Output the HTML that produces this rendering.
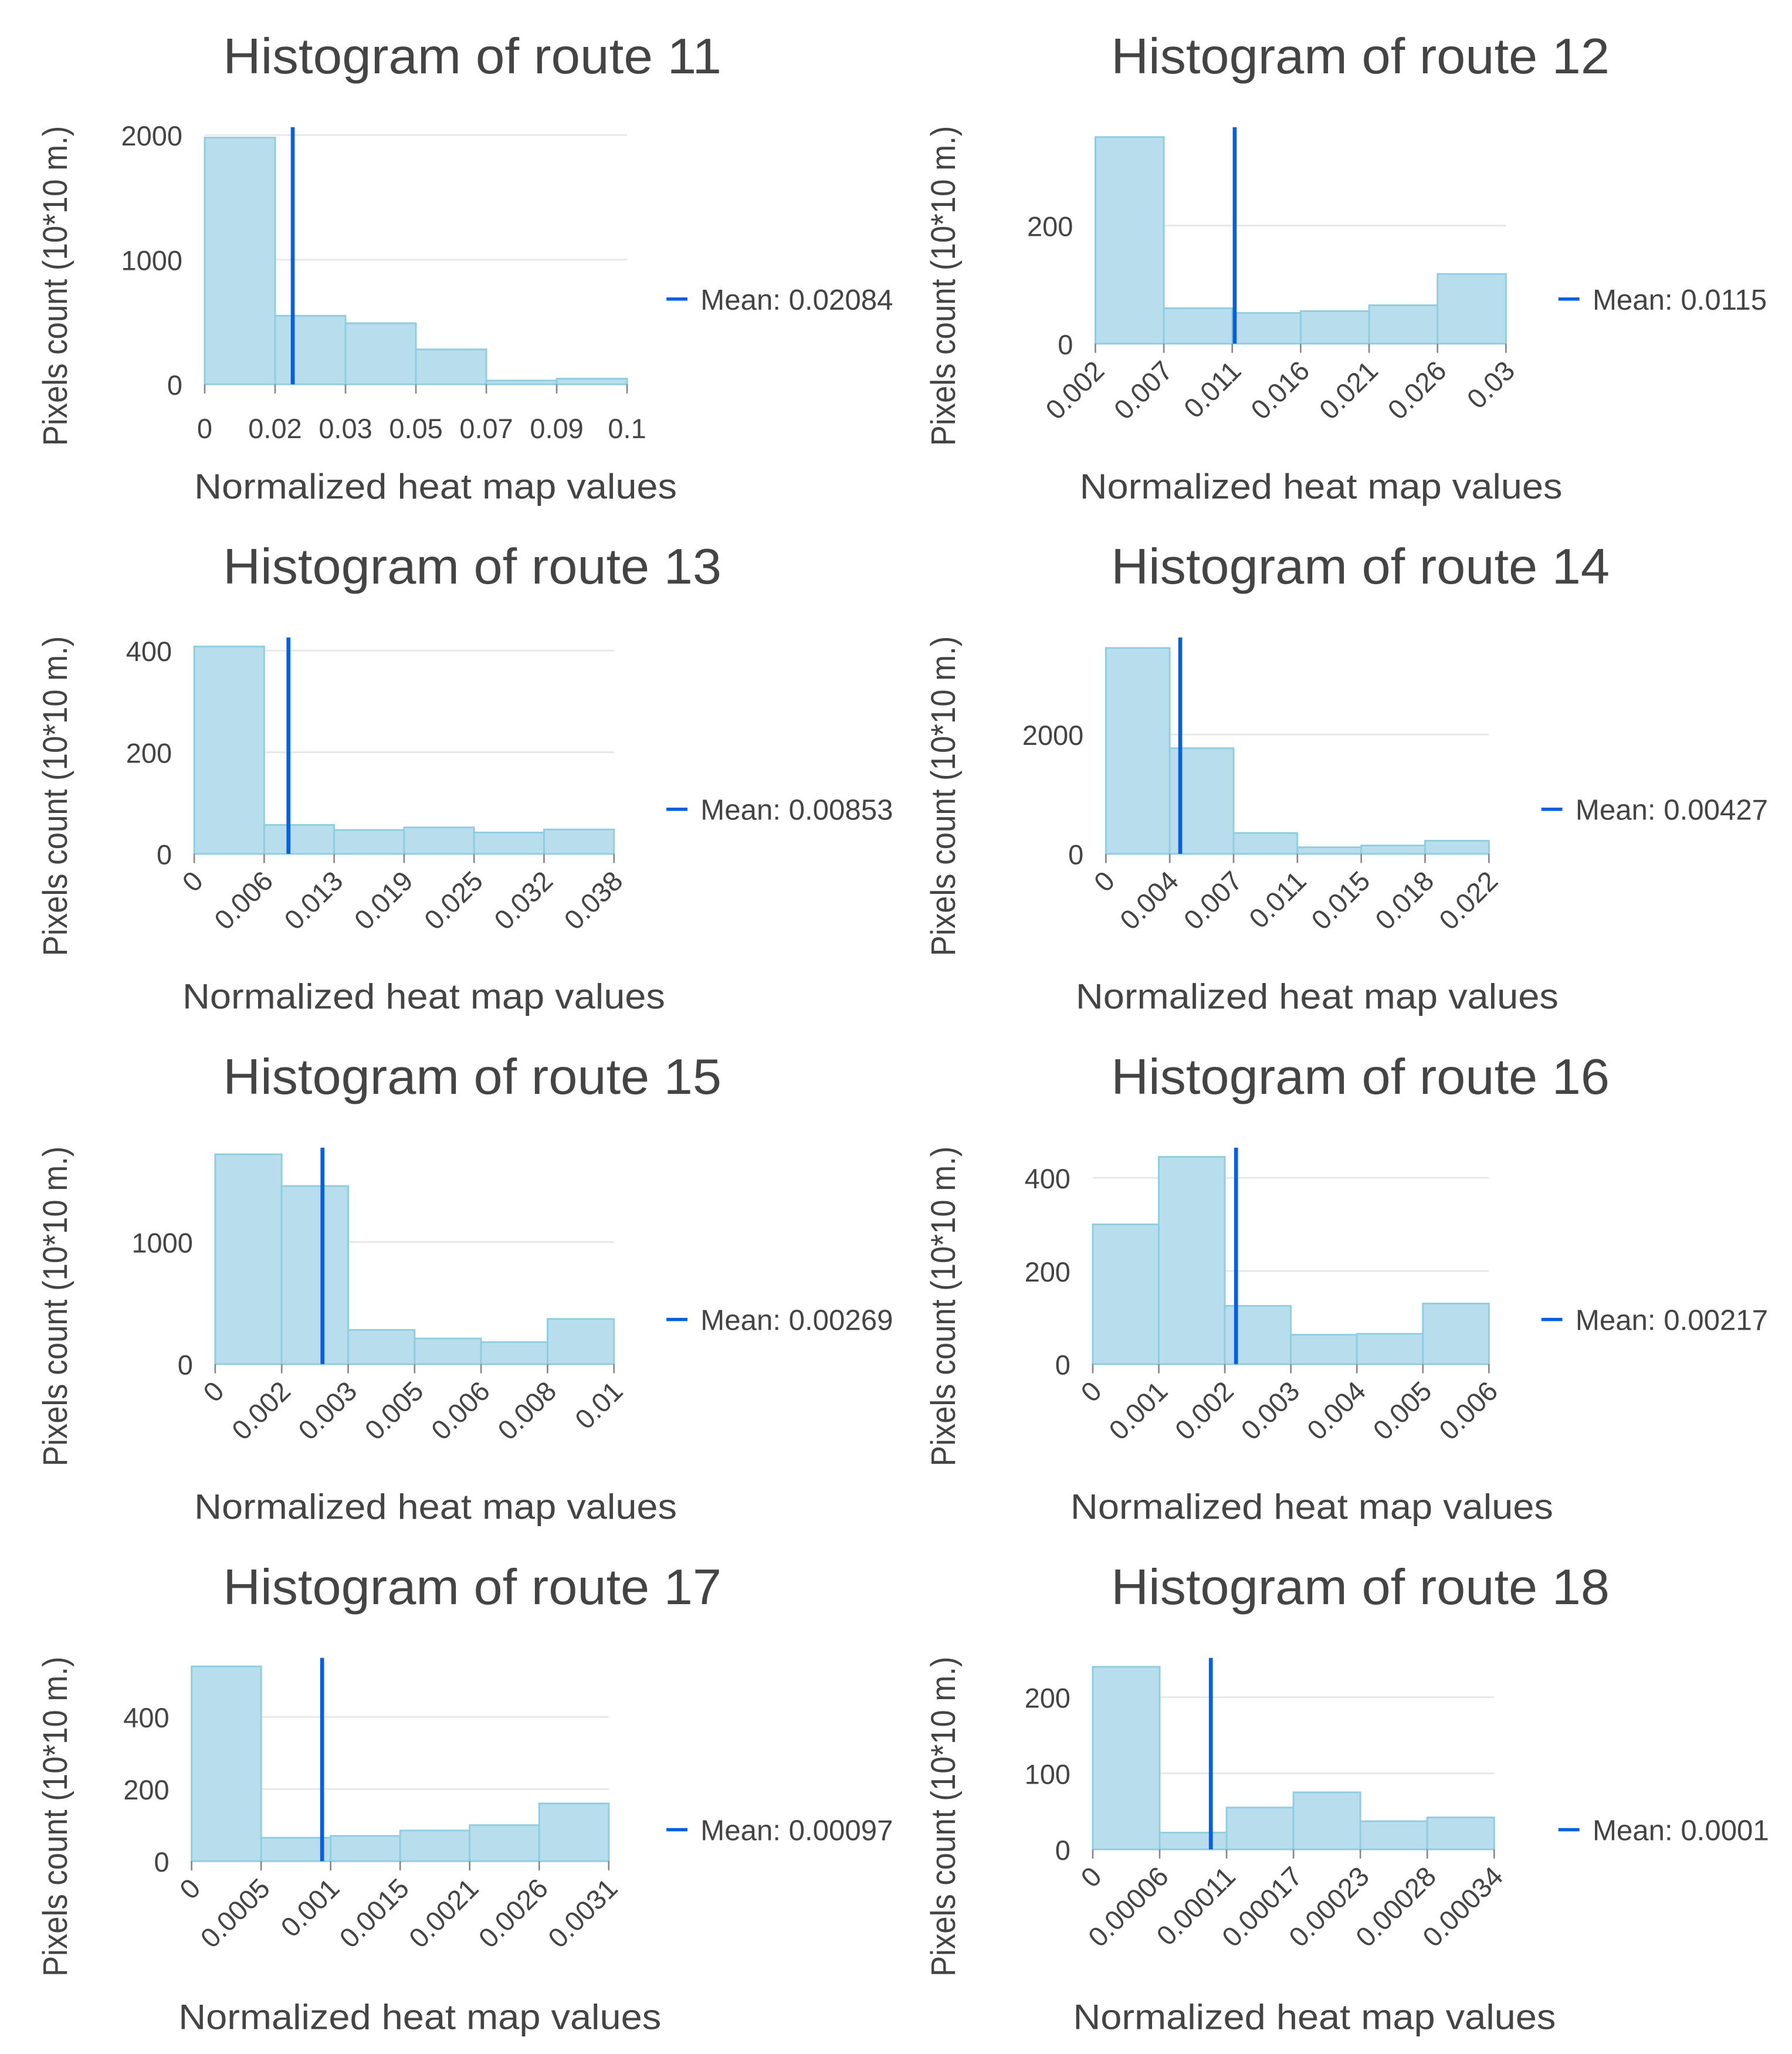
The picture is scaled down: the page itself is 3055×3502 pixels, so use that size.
<!DOCTYPE html>
<html><head><meta charset="utf-8">
<style>
html,body{margin:0;padding:0;background:#fff;}
svg{display:block;}
text{font-family:"Liberation Sans",sans-serif;fill:#444;}
</style></head>
<body>
<svg id="chart" width="3055" height="3502" viewBox="0 0 1366 1566" xmlns="http://www.w3.org/2000/svg"></svg>
<script>
// ---- data ----
const routes = ["11","12","13","14","15","16","17","18"];
const counts11 = [1980, 550, 490, 280, 30, 45];
const counts12 = [350, 60, 52, 55, 65, 118];
const counts13 = [408, 57, 47, 52, 42, 48];
const counts14 = [3450, 1770, 350, 110, 140, 220];
const counts15 = [1720, 1460, 280, 210, 180, 370];
const counts16 = [300, 445, 125, 63, 65, 130];
const counts17 = [540, 65, 70, 85, 100, 160];
const counts18 = [240, 22, 55, 75, 37, 42];
const ticks11 = ["0","0.02","0.03","0.05","0.07","0.09","0.1"];
const ticks12 = ["0.002","0.007","0.011","0.016","0.021","0.026","0.03"];
const ticks13 = ["0","0.006","0.013","0.019","0.025","0.032","0.038"];
const ticks14 = ["0","0.004","0.007","0.011","0.015","0.018","0.022"];
const ticks15 = ["0","0.002","0.003","0.005","0.006","0.008","0.01"];
const ticks16 = ["0","0.001","0.002","0.003","0.004","0.005","0.006"];
const ticks17 = ["0","0.0005","0.001","0.0015","0.0021","0.0026","0.0031"];
const ticks18 = ["0","0.00006","0.00011","0.00017","0.00023","0.00028","0.00034"];
const yTicks11 = [0, 1000, 2000];
const yTicks12 = [0, 200];
const yTicks13 = [0, 200, 400];
const yTicks14 = [0, 2000];
const yTicks15 = [0, 1000];
const yTicks16 = [0, 200, 400];
const yTicks17 = [0, 200, 400];
const yTicks18 = [0, 100, 200];
const means = [0.02084, 0.0115, 0.00853, 0.00427, 0.00269, 0.00217, 0.00097, 0.0001];
const meanLabels = ["0.02084","0.0115","0.00853","0.00427","0.00269","0.00217","0.00097","0.0001"];

const allCounts = [counts11,counts12,counts13,counts14,counts15,counts16,counts17,counts18];
const allTicks = [ticks11,ticks12,ticks13,ticks14,ticks15,ticks16,ticks17,ticks18];
const allYTicks = [yTicks11,yTicks12,yTicks13,yTicks14,yTicks15,yTicks16,yTicks17,yTicks18];

// ---- layout (pixels, preview coordinate space) ----
const layout = [
 {x0:156,x1:478,base:293,refY:103,refV:2000,rot:false,legX:508,col:0,row:0},
 {x0:835,x1:1148,base:262,refY:172,refV:200,rot:true,legX:1188,col:1,row:0},
 {x0:148,x1:468,base:651,refY:496,refV:400,rot:true,legX:508,col:0,row:1},
 {x0:843,x1:1135,base:651,refY:560,refV:2000,rot:true,legX:1175,col:1,row:1},
 {x0:164,x1:468,base:1040,refY:947,refV:1000,rot:true,legX:508,col:0,row:2},
 {x0:833,x1:1135,base:1040,refY:898,refV:400,rot:true,legX:1175,col:1,row:2},
 {x0:146,x1:464,base:1419,refY:1309,refV:400,rot:true,legX:508,col:0,row:3},
 {x0:833,x1:1139,base:1410,refY:1294,refV:200,rot:true,legX:1188,col:1,row:3}
];
const xTitleX = [332,1007,323,1004,332,1000,320,1002];

const NS = "http://www.w3.org/2000/svg";
const svg = document.getElementById('chart');
function mk(tag, attrs, parent){
  const e = document.createElementNS(NS, tag);
  for (const k in attrs) e.setAttribute(k, attrs[k]);
  (parent||svg).appendChild(e);
  return e;
}

for (let i = 0; i < routes.length; i++){
  const L = layout[i];
  const counts = allCounts[i], ticks = allTicks[i], yt = allYTicks[i];
  const g = mk('g', {});
  
  
  const dx = L.col ? 677 : 0, dy = L.row * 389;
  const tMin = parseFloat(ticks[0]), tMax = parseFloat(ticks[ticks.length-1]);
  const xScale = v => L.x0 + (v - tMin) / (tMax - tMin) * (L.x1 - L.x0);
  const yScale = v => L.base - v * (L.base - L.refY) / L.refV;
  const bw = (L.x1 - L.x0) / counts.length;

  const t = mk('text', {x:360+dx, y:56+dy, 'text-anchor':'middle', 'font-size':38, textLength:380, lengthAdjust:'spacingAndGlyphs'}, g);
  t.textContent = 'Histogram of route ' + routes[i];
  
  

  const yTitle = mk('text', {x:0, y:0, 'text-anchor':'middle', 'font-size':26, textLength:244, lengthAdjust:'spacingAndGlyphs',
    transform:'translate(' + (51+dx) + ',' + (218+dy) + ') rotate(-90)'}, g);
  yTitle.textContent = 'Pixels count (10*10 m.)';
  
  

  const xTitle = mk('text', {x:xTitleX[i], y:380+dy, 'text-anchor':'middle', 'font-size':27, textLength:368, lengthAdjust:'spacingAndGlyphs'}, g);
  xTitle.textContent = 'Normalized heat map values';
  
  

  yt.forEach(v => {
    const y = yScale(v);
    if (v !== 0){
      const gl = mk('line', {x1:L.x0, x2:L.x1, y1:y, y2:y, stroke:'#e6e6e6', 'stroke-width':1.2}, g);
      
      
    }
    const lb = mk('text', {x:L.x0-17, y:y+8, 'text-anchor':'end', 'font-size':21}, g);
    lb.textContent = String(v);
    
    
  });

  counts.forEach((c, k) => {
    const x = L.x0 + k * bw, y = yScale(c);
    const r = mk('rect', {x:x, y:y, width:bw, height:L.base - y, fill:'#b8dded', stroke:'#8fcde0', 'stroke-width':1.3}, g);
    
    
  });

  ticks.forEach((lab, k) => {
    const x = L.x0 + k * (L.x1 - L.x0) / (ticks.length - 1);
    const tk = mk('line', {x1:x, x2:x, y1:L.base, y2:L.base+7, stroke:'#888', 'stroke-width':1.2}, g);
    
    
    let tl;
    if (L.rot){
      tl = mk('text', {x:0, y:0, 'text-anchor':'end', 'font-size':21,
        transform:'translate(' + (x+8) + ',' + (L.base+22) + ') rotate(-45)'}, g);
    } else {
      tl = mk('text', {x:x, y:L.base+41, 'text-anchor':'middle', 'font-size':21}, g);
    }
    tl.textContent = lab;
    
    
  });

  const mx = xScale(means[i]);
  const ml = mk('line', {x1:mx, x2:mx, y1:97+dy, y2:L.base, stroke:'#0a5fe0', 'stroke-width':3}, g);
  
  

  const lg = mk('g', {}, g);
  
  
  mk('line', {x1:L.legX, x2:L.legX+16, y1:228+dy, y2:228+dy, stroke:'#0a5fe0', 'stroke-width':2.5}, lg);
  const lt = mk('text', {x:L.legX+26, y:236+dy, 'font-size':22}, lg);
  lt.textContent = 'Mean: ' + meanLabels[i];
}
</script>
</body></html>
